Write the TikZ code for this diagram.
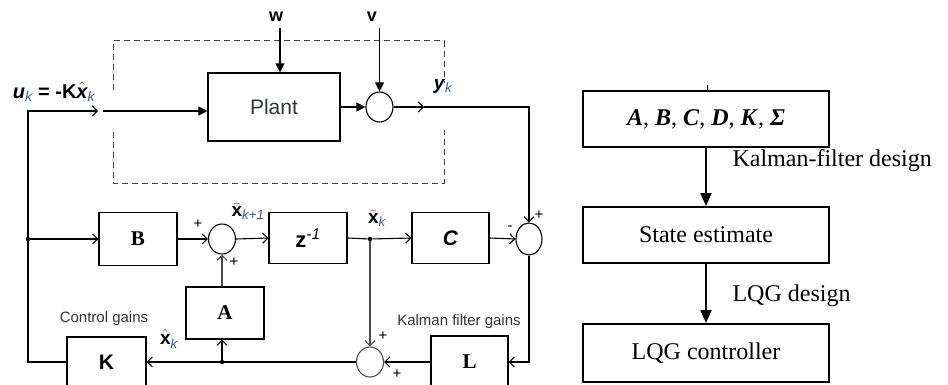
\documentclass[tikz,border=0pt]{standalone}
\usepackage{fontspec}
\setmainfont{Liberation Serif}
\setsansfont{Liberation Sans}
\usepackage{xcolor}
\usepackage{tikz}
\usetikzlibrary{arrows.meta,shapes.geometric}
\definecolor{subblue}{HTML}{3A5A98}
\definecolor{txtgray}{HTML}{30343F}

\begin{document}
\begin{tikzpicture}[x=1pt,y=-1pt,
  blk/.style={draw, line width=1.1pt, inner sep=0pt},
  sumnode/.style={draw, ellipse, line width=1.1pt, minimum width=27pt, minimum height=30pt, inner sep=0pt},
  dotn/.style={circle, fill, inner sep=0pt, minimum size=4.5pt},
  chev/.style={-{Straight Barb[length=5pt,width=10pt]}, line width=1.1pt},
  tri/.style={-{Triangle[length=9pt,width=9pt]}, line width=1.1pt},
  lbl/.style={font=\sffamily\fontsize{15}{17}\selectfont, text=txtgray},
  var/.style={font=\sffamily\bfseries\fontsize{19}{21}\selectfont, inner sep=1pt},
  pm/.style={font=\sffamily\fontsize{15}{16}\selectfont, inner sep=0pt},
  bigbox/.style={draw, line width=2pt, minimum width=246pt, minimum height=56pt, font=\fontsize{24}{27}\selectfont},
  bigarr/.style={-{Triangle[length=13pt,width=11pt]}, line width=2pt}]

\useasboundingbox (0,0) rectangle (948,385);

% Plant with noises
\draw[dash pattern=on 6pt off 4pt, line width=1pt, black!75] (113,90) -- (113,41) -- (444,41) -- (444,83);
\draw[dash pattern=on 6pt off 4pt, line width=1pt, black!75] (113,132) -- (113,183) -- (444,183) -- (444,130);
\node[blk, minimum width=132pt, minimum height=68pt, font=\sffamily\fontsize{21}{23}\selectfont, text=txtgray] (plant) at (274,107) {Plant};
\node[sumnode] (sumy) at (379.5,107) {};
\node[font=\sffamily\bfseries\fontsize{18}{20}\selectfont] (w) at (276,17) {w};
\node[font=\sffamily\bfseries\fontsize{18}{20}\selectfont] (v) at (372,17) {v};
\coordinate (wtop) at (280,28);
\coordinate (vtop) at (379.5,28);
\draw[tri] (wtop) -- (wtop |- plant.north);
\draw[tri] (vtop) -- (sumy.north);
\draw[tri] (plant.east) -- (sumy.west);
\node[var, font=\sffamily\bfseries\fontsize{20}{22}\selectfont] (uk) at (54,92) {\textit{u}\textsubscript{\color{subblue}\mdseries\itshape k} = -K$\hat{\mbox{\itshape x}}$\textsubscript{\color{subblue}\mdseries\itshape k}};
\node[var] (yk) at (443,86) {\textit{y}\textsubscript{\color{subblue}\mdseries\itshape k}};

% Estimator
\node[blk, minimum width=78pt, minimum height=53pt, font=\bfseries\fontsize{21}{23}\selectfont] (bblk) at (138,239) {B};
\node[sumnode] (sumx) at (222,239) {};
\node[blk, minimum width=78pt, minimum height=51pt, font=\sffamily\bfseries\fontsize{22}{24}\selectfont] (zblk) at (308,238) {z\textsuperscript{\mdseries\itshape -1}};
\node[blk, minimum width=77pt, minimum height=51pt, font=\sffamily\bfseries\itshape\fontsize{21}{23}\selectfont] (cblk) at (450.5,238) {C};
\node[sumnode, minimum width=26pt, minimum height=32pt] (sumc) at (529,239) {};
\node[blk, minimum width=78pt, minimum height=52pt, font=\bfseries\fontsize{21}{23}\selectfont] (ablk) at (225,313) {A};
\node[blk, minimum width=79pt, minimum height=50pt, font=\sffamily\bfseries\fontsize{21}{23}\selectfont] (kblk) at (106.5,362) {K};
\node[blk, minimum width=77pt, minimum height=52pt, font=\bfseries\fontsize{21}{23}\selectfont] (lblk) at (469.5,362) {L};
\node[sumnode, draw=black!70] (sumk) at (370,362) {};
\node[dotn] (dot1) at (28,239) {};
\node[dotn] (dot2) at (370,239) {};
\node[dotn] (dot3) at (222,362) {};

% Signals
\coordinate (cL) at (28,111);
\coordinate (cK) at (28,362);
\coordinate (cIn) at (98,111);
\coordinate (cIn2) at (103,111);
\coordinate (yarr) at (424,107);
\coordinate (ycorn) at (529,107);
\draw[chev] (kblk.west) -- (cK) -- (cL) -- (cIn);
\draw[tri] (cIn2) -- (cIn2 -| plant.west);
\draw[chev] (sumy.east) -- (yarr);
\draw[chev] (yarr) -- (ycorn) -- (sumc.north);
\draw[chev] (dot1) -- (bblk.west);
\draw[chev] (bblk.east) -- (sumx.west);
\draw[chev] (sumx.east) -- (zblk.west);
\draw[line width=1.1pt] (zblk.east) -- (dot2);
\draw[chev] (dot2) -- (cblk.west);
\draw[chev] (cblk.east) -- (sumc.west);
\draw[chev] (sumc.south) -- (sumc.south |- lblk.east) -- (lblk.east);
\draw[chev] (lblk.west) -- (sumk.east);
\draw[chev, black!70] (dot2) -- (sumk.north);
\draw[chev] (sumk.west) -- (kblk.east);
\draw[chev] (dot3) -- (dot3 |- ablk.south);
\draw[chev, black!70] (sumx |- ablk.north) -- (sumx.south);

% Signs and labels
\node[pm] (p1) at (198,224) {+};
\node[pm] (p2) at (234,262) {+};
\node[pm] (p3) at (510,228) {-};
\node[pm] (p4) at (539,215) {+};
\node[pm] (p5) at (383,336) {+};
\node[pm] (p6) at (397,374) {+};
\node[var] (xb1) at (248,212) {$\bar{\mbox{x}}$\textsubscript{\color{subblue}\mdseries\itshape k+1}};
\node[var] (xb2) at (377,219) {$\bar{\mbox{x}}$\textsubscript{\color{subblue}\mdseries\itshape k}};
\node[var] (xh) at (169,339) {$\hat{\mbox{x}}$\textsubscript{\color{subblue}\mdseries\itshape k}};
\node[lbl] (cg) at (104,319) {Control gains};
\node[lbl] (kg) at (459,322) {Kalman filter gains};

% Design steps
\node[bigbox] (par) at (706,119) {\textbf{\textit{A}}, \textbf{\textit{B}}, \textbf{\textit{C}}, \textbf{\textit{D}}, \textbf{\textit{K}}, \textbf{\textit{Σ}}};
\node[bigbox] (est) at (706,235) {State estimate};
\node[bigbox, minimum height=58pt] (lqg) at (706,353) {LQG controller};
\coordinate (tick) at (707,85);
\draw[line width=1pt] (tick) -- (tick |- par.north);
\draw[bigarr] (par) -- (est);
\draw[bigarr] (est) -- (lqg);
\node[anchor=west, font=\fontsize{24}{27}\selectfont] (kfd) at (729,161) {Kalman-filter design};
\node[anchor=west, font=\fontsize{24}{27}\selectfont] (lqgd) at (729,296) {LQG design};
\end{tikzpicture}
\end{document}
